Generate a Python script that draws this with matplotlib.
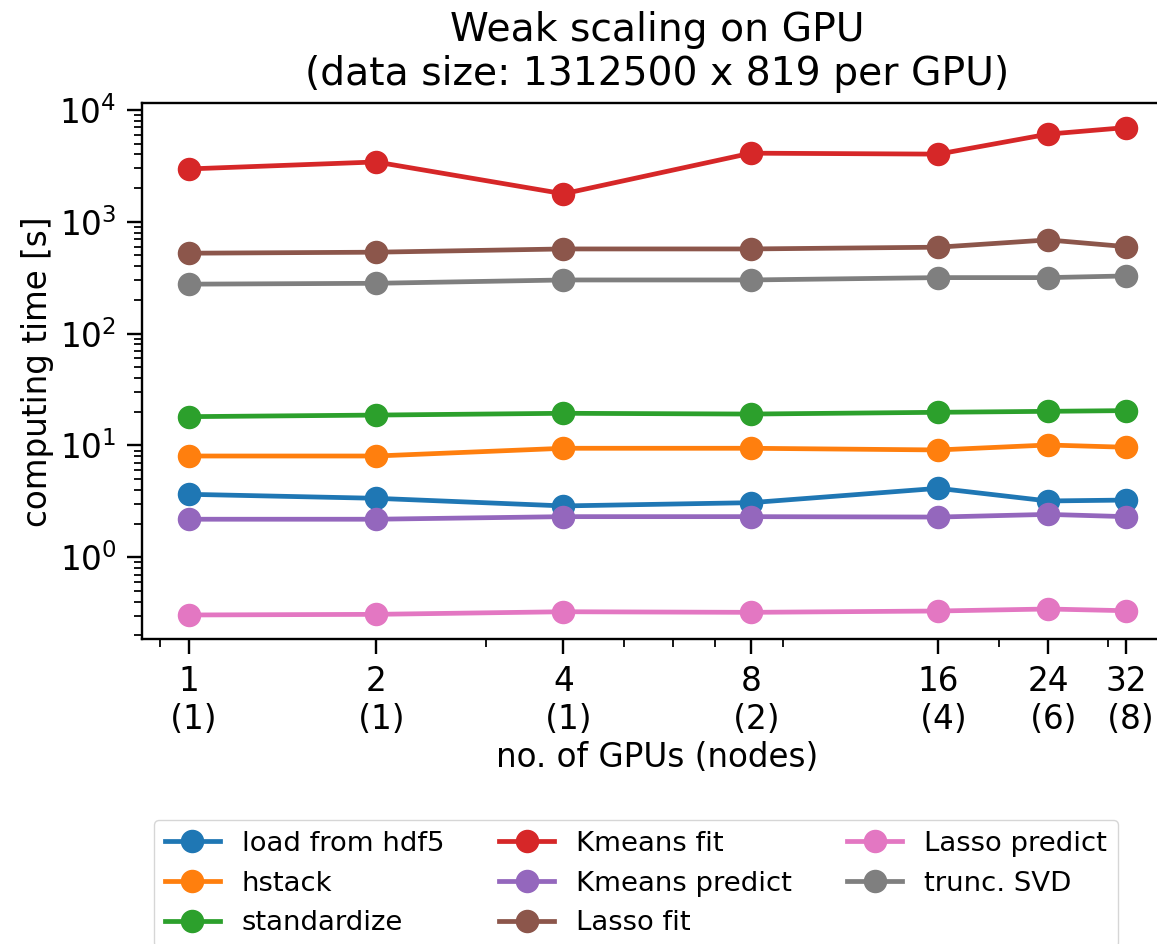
import matplotlib
matplotlib.use("Agg")
import matplotlib.pyplot as plt

# ---- data ----
gpus = [1, 2, 4, 8, 16, 24, 32]
nodes = [1, 1, 1, 2, 4, 6, 8]
xtick_labels = [f"{g}\n ({n})" for g, n in zip(gpus, nodes)]

load_from_hdf5 = [3.66, 3.37, 2.88, 3.08, 4.14, 3.19, 3.25]
hstack = [8.05, 8.05, 9.44, 9.44, 9.12, 10.1, 9.64]
standardize = [18.1, 18.7, 19.4, 19.1, 19.8, 20.2, 20.5]
kmeans_fit = [2970, 3430, 1780, 4110, 4030, 6080, 6960]
kmeans_predict = [2.19, 2.19, 2.31, 2.31, 2.29, 2.42, 2.31]
lasso_fit = [524, 535, 572, 572, 593, 689, 600]
lasso_predict = [0.305, 0.309, 0.326, 0.322, 0.331, 0.345, 0.333]
trunc_svd = [277, 282, 302, 302, 317, 317, 328]

series = [
    ("load from hdf5", load_from_hdf5),
    ("hstack", hstack),
    ("standardize", standardize),
    ("Kmeans fit", kmeans_fit),
    ("Kmeans predict", kmeans_predict),
    ("Lasso fit", lasso_fit),
    ("Lasso predict", lasso_predict),
    ("trunc. SVD", trunc_svd),
]

S = 2.14  # scale factor of the original rendering
plt.rcParams["font.family"] = "DejaVu Sans"
plt.rcParams["font.size"] = 11 * S

fig = plt.figure(figsize=(11.57, 9.44), dpi=100)
ax = fig.add_axes([0.1225, 0.3228, 0.891, 0.5678])

handles = []
for i, (name, vals) in enumerate(series):
    h, = ax.plot(gpus, vals, marker="o", color=f"C{i}", lw=1.6 * S,
                 markersize=7.4 * S, markeredgewidth=0.5 * S, label=name)
    handles.append(h)

ax.set_xscale("log")
ax.set_yscale("log")
ax.set_xticks(gpus)
ax.set_xticklabels(xtick_labels)
ax.set_ylim(10 ** -0.733, 10 ** 4.06)

for sp in ax.spines.values():
    sp.set_linewidth(0.8 * S)
ax.tick_params(which="major", length=5.0 * S, width=0.8 * S, pad=3.5 * S)
ax.tick_params(which="minor", length=2.8 * S, width=0.6 * S)

ax.set_title("Weak scaling on GPU\n(data size: 1312500 x 819 per GPU)", pad=6 * S)
ax.set_ylabel("computing time [s]")
ax.set_xlabel("no. of GPUs (nodes)")

fig.legend(handles, [s[0] for s in series], loc="upper left",
           bbox_to_anchor=(154 / 1157, 1 - 820 / 944), ncol=3,
           borderaxespad=0, fontsize=9.25 * S, labelspacing=0.5)

fig.savefig("out.png", dpi=100)
